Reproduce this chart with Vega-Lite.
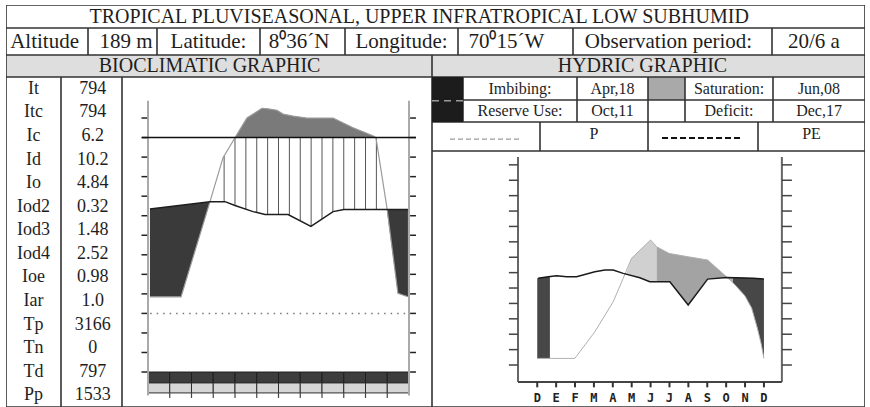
{
"$schema": "https://vega.github.io/schema/vega-lite/v6.json",
"padding": {"left": 6, "top": 5, "right": 5, "bottom": 0},
"background": "white",
"config": {
  "view": {"stroke": null},
  "concat": {"spacing": 0},
  "text": {"font": "Liberation Serif", "fontSize": 20, "color": "#1e1e1e"},
  "axis": {"disable": true},
  "legend": {"disable": true}
},
"datasets": {
  "cell": [{"c": 1}],
  "idx": [{"i":0,"k":"It","v":"794"},{"i":1,"k":"Itc","v":"794"},{"i":2,"k":"Ic","v":"6.2"},{"i":3,"k":"Id","v":"10.2"},{"i":4,"k":"Io","v":"4.84"},{"i":5,"k":"Iod2","v":"0.32"},{"i":6,"k":"Iod3","v":"1.48"},{"i":7,"k":"Iod4","v":"2.52"},{"i":8,"k":"Ioe","v":"0.98"},{"i":9,"k":"Iar","v":"1.0"},{"i":10,"k":"Tp","v":"3166"},{"i":11,"k":"Tn","v":"0"},{"i":12,"k":"Td","v":"797"},{"i":13,"k":"Pp","v":"1533"}],
  "months": [{"m":0,"e":1},{"m":1,"e":2},{"m":2,"e":3},{"m":3,"e":4},{"m":4,"e":5},{"m":5,"e":6},{"m":6,"e":7},{"m":7,"e":8},{"m":8,"e":9},{"m":9,"e":10},{"m":10,"e":11},{"m":11,"e":12}],
  "bticks": [{"v":0},{"v":1},{"v":2},{"v":3},{"v":4},{"v":5},{"v":6},{"v":7},{"v":8},{"v":9},{"v":10},{"v":11},{"v":12},{"v":13}],
  "bioA": [{"x":0.09,"v":8.35},{"x":2.85,"v":8.72},{"x":3.54,"v":8.72},{"x":4.0,"v":8.52},{"x":4.83,"v":8.21},{"x":5.38,"v":8.06},{"x":6.44,"v":8.06},{"x":7.49,"v":7.45},{"x":8.51,"v":8.21},{"x":9.01,"v":8.32},{"x":11.95,"v":8.32}],
  "bioB": [{"x":0.09,"v":3.85},{"x":1.52,"v":3.85},{"x":2.85,"v":8.72},{"x":3.45,"v":10.97},{"x":4.0,"v":11.99},{"x":4.55,"v":13.0},{"x":5.24,"v":13.5},{"x":5.52,"v":13.47},{"x":5.93,"v":13.4},{"x":6.21,"v":13.2},{"x":6.67,"v":13.1},{"x":7.31,"v":13.0},{"x":8.51,"v":13.0},{"x":9.43,"v":12.5},{"x":10.34,"v":12.09},{"x":10.48,"v":12.0},{"x":10.99,"v":8.37},{"x":11.49,"v":4.03},{"x":11.95,"v":3.85}],
  "bioDark": [{"s":"a","x":0.09,"lo":3.85,"hi":8.35},{"s":"a","x":1.52,"lo":3.85,"hi":8.54},{"s":"a","x":2.85,"lo":8.72,"hi":8.72},{"s":"b","x":10.98,"lo":8.33,"hi":8.33},{"s":"b","x":11.49,"lo":4.03,"hi":8.33},{"s":"b","x":11.95,"lo":3.85,"hi":8.33}],
  "bioTop": [{"x":4.0,"v":12.0},{"x":4.55,"v":13.0},{"x":5.24,"v":13.5},{"x":5.52,"v":13.47},{"x":5.93,"v":13.4},{"x":6.21,"v":13.2},{"x":6.67,"v":13.1},{"x":7.31,"v":13.0},{"x":8.51,"v":13.0},{"x":9.43,"v":12.5},{"x":10.34,"v":12.09},{"x":10.48,"v":12.0}],
  "bioHatch": [{"x":3.5,"lo":8.72,"hi":11.06},{"x":4.0,"lo":8.52,"hi":12},{"x":4.5,"lo":8.33,"hi":12},{"x":5.0,"lo":8.16,"hi":12},{"x":5.5,"lo":8.06,"hi":12},{"x":6.0,"lo":8.06,"hi":12},{"x":6.5,"lo":8.03,"hi":12},{"x":7.0,"lo":7.73,"hi":12},{"x":7.5,"lo":7.45,"hi":12},{"x":8.0,"lo":7.83,"hi":12},{"x":8.5,"lo":8.21,"hi":12},{"x":9.0,"lo":8.32,"hi":12},{"x":9.5,"lo":8.32,"hi":12},{"x":10.0,"lo":8.32,"hi":12},{"x":10.5,"lo":8.32,"hi":12}],
  "hmonths": [{"m":0,"l":"D"},{"m":1,"l":"E"},{"m":2,"l":"F"},{"m":3,"l":"M"},{"m":4,"l":"A"},{"m":5,"l":"M"},{"m":6,"l":"J"},{"m":7,"l":"J"},{"m":8,"l":"A"},{"m":9,"l":"S"},{"m":10,"l":"O"},{"m":11,"l":"N"},{"m":12,"l":"D"}],
  "hticks": [{"k":1},{"k":2},{"k":3},{"k":4},{"k":5},{"k":6},{"k":7},{"k":8},{"k":9},{"k":10},{"k":11},{"k":12},{"k":13},{"k":14}],
  "P": [{"x":0.05,"v":1.43},{"x":1.99,"v":1.43},{"x":3.05,"v":3.16},{"x":4.02,"v":5.11},{"x":4.55,"v":6.63},{"x":4.99,"v":7.93},{"x":6.0,"v":9.12},{"x":6.32,"v":8.68},{"x":6.98,"v":8.25},{"x":7.99,"v":8.03},{"x":9.02,"v":7.82},{"x":10.02,"v":6.73},{"x":10.36,"v":6.35},{"x":10.99,"v":5.5},{"x":11.35,"v":4.7},{"x":11.65,"v":3.4},{"x":11.85,"v":2.4},{"x":12.0,"v":1.43}],
  "PE": [{"x":0.05,"v":6.63},{"x":0.58,"v":6.73},{"x":1.03,"v":6.8},{"x":1.56,"v":6.73},{"x":2.08,"v":6.73},{"x":3.05,"v":7.06},{"x":3.58,"v":7.17},{"x":4.02,"v":7.17},{"x":4.55,"v":6.95},{"x":5.43,"v":6.67},{"x":5.96,"v":6.41},{"x":7.02,"v":6.41},{"x":7.99,"v":4.9},{"x":9.02,"v":6.58},{"x":10.02,"v":6.69},{"x":11.43,"v":6.63},{"x":12.0,"v":6.58}],
  "hLeft": [{"x":0.0,"lo":1.43,"hi":6.63},{"x":0.67,"lo":1.43,"hi":6.75}],
  "hLight": [{"x":4.7,"lo":6.9,"hi":6.9},{"x":4.99,"lo":6.81,"hi":7.93},{"x":5.43,"lo":6.67,"hi":8.45},{"x":5.96,"lo":6.41,"hi":9.07},{"x":6.0,"lo":6.41,"hi":9.12},{"x":6.32,"lo":6.41,"hi":8.68}],
  "hSat": [{"x":6.32,"lo":6.41,"hi":8.68},{"x":6.98,"lo":6.41,"hi":8.25},{"x":7.02,"lo":6.41,"hi":8.24},{"x":7.99,"lo":4.9,"hi":8.03},{"x":9.02,"lo":6.58,"hi":7.82},{"x":10.02,"lo":6.69,"hi":6.73}],
  "hDefL": [{"x":10.02,"lo":6.71,"hi":6.71},{"x":10.36,"lo":6.35,"hi":6.68}],
  "hDefD": [{"x":10.36,"lo":6.35,"hi":6.68},{"x":10.99,"lo":5.5,"hi":6.66},{"x":11.35,"lo":4.7,"hi":6.64},{"x":11.65,"lo":3.4,"hi":6.62},{"x":11.85,"lo":2.4,"hi":6.6},{"x":12.0,"lo":1.43,"hi":6.58}]
},
"spacing": 0,
"vconcat": [
  {"width": 859, "height": 23, "layer": [
    {"data": {"name": "cell"}, "mark": {"type": "rect", "fill": "transparent", "stroke": "#333", "strokeWidth": 1.6, "clip": true}, "encoding": {"x": {"datum": 0, "type": "quantitative", "scale": {"domain": [0, 1]}, "axis": null}, "x2": {"datum": 1}, "y": {"datum": 0, "type": "quantitative", "scale": {"domain": [0, 1]}, "axis": null}, "y2": {"datum": 1}}},
    {"data": {"values": [{"t": "TROPICAL PLUVISEASONAL, UPPER INFRATROPICAL LOW SUBHUMID"}]}, "mark": {"type": "text", "fontSize": 20}, "encoding": {"x": {"datum": 0.481, "type": "quantitative"}, "y": {"datum": 0.5, "type": "quantitative"}, "text": {"field": "t"}}}
  ]},
  {"spacing": 0, "hconcat": [
    {"width": 82, "height": 27, "layer": [
      {"data": {"name": "cell"}, "mark": {"type": "rect", "fill": "transparent", "stroke": "#333", "strokeWidth": 1.6, "clip": true}, "encoding": {"x": {"datum": 0, "type": "quantitative", "scale": {"domain": [0, 1]}, "axis": null}, "x2": {"datum": 1}, "y": {"datum": 0, "type": "quantitative", "scale": {"domain": [0, 1]}, "axis": null}, "y2": {"datum": 1}}},
      {"data": {"values": [{"t": "Altitude"}]}, "mark": {"type": "text", "fontSize": 21}, "encoding": {"x": {"datum": 0.47, "type": "quantitative"}, "y": {"datum": 0.5, "type": "quantitative"}, "text": {"field": "t"}}}
    ]},
    {"width": 69, "height": 27, "layer": [
      {"data": {"name": "cell"}, "mark": {"type": "rect", "fill": "transparent", "stroke": "#333", "strokeWidth": 1.6, "clip": true}, "encoding": {"x": {"datum": 0, "type": "quantitative", "scale": {"domain": [0, 1]}, "axis": null}, "x2": {"datum": 1}, "y": {"datum": 0, "type": "quantitative", "scale": {"domain": [0, 1]}, "axis": null}, "y2": {"datum": 1}}},
      {"data": {"values": [{"t": "189 m"}]}, "mark": {"type": "text", "fontSize": 21}, "encoding": {"x": {"datum": 0.55, "type": "quantitative"}, "y": {"datum": 0.5, "type": "quantitative"}, "text": {"field": "t"}}}
    ]},
    {"width": 103, "height": 27, "layer": [
      {"data": {"name": "cell"}, "mark": {"type": "rect", "fill": "transparent", "stroke": "#333", "strokeWidth": 1.6, "clip": true}, "encoding": {"x": {"datum": 0, "type": "quantitative", "scale": {"domain": [0, 1]}, "axis": null}, "x2": {"datum": 1}, "y": {"datum": 0, "type": "quantitative", "scale": {"domain": [0, 1]}, "axis": null}, "y2": {"datum": 1}}},
      {"data": {"values": [{"t": "Latitude:"}]}, "mark": {"type": "text", "fontSize": 21}, "encoding": {"x": {"datum": 0.5, "type": "quantitative"}, "y": {"datum": 0.5, "type": "quantitative"}, "text": {"field": "t"}}}
    ]},
    {"width": 85, "height": 27, "layer": [
      {"data": {"name": "cell"}, "mark": {"type": "rect", "fill": "transparent", "stroke": "#333", "strokeWidth": 1.6, "clip": true}, "encoding": {"x": {"datum": 0, "type": "quantitative", "scale": {"domain": [0, 1]}, "axis": null}, "x2": {"datum": 1}, "y": {"datum": 0, "type": "quantitative", "scale": {"domain": [0, 1]}, "axis": null}, "y2": {"datum": 1}}},
      {"data": {"values": [{"t": "8⁰36´N"}]}, "mark": {"type": "text", "fontSize": 21}, "encoding": {"x": {"datum": 0.46, "type": "quantitative"}, "y": {"datum": 0.5, "type": "quantitative"}, "text": {"field": "t"}}}
    ]},
    {"width": 113, "height": 27, "layer": [
      {"data": {"name": "cell"}, "mark": {"type": "rect", "fill": "transparent", "stroke": "#333", "strokeWidth": 1.6, "clip": true}, "encoding": {"x": {"datum": 0, "type": "quantitative", "scale": {"domain": [0, 1]}, "axis": null}, "x2": {"datum": 1}, "y": {"datum": 0, "type": "quantitative", "scale": {"domain": [0, 1]}, "axis": null}, "y2": {"datum": 1}}},
      {"data": {"values": [{"t": "Longitude:"}]}, "mark": {"type": "text", "fontSize": 21}, "encoding": {"x": {"datum": 0.5, "type": "quantitative"}, "y": {"datum": 0.5, "type": "quantitative"}, "text": {"field": "t"}}}
    ]},
    {"width": 115, "height": 27, "layer": [
      {"data": {"name": "cell"}, "mark": {"type": "rect", "fill": "transparent", "stroke": "#333", "strokeWidth": 1.6, "clip": true}, "encoding": {"x": {"datum": 0, "type": "quantitative", "scale": {"domain": [0, 1]}, "axis": null}, "x2": {"datum": 1}, "y": {"datum": 0, "type": "quantitative", "scale": {"domain": [0, 1]}, "axis": null}, "y2": {"datum": 1}}},
      {"data": {"values": [{"t": "70⁰15´W"}]}, "mark": {"type": "text", "fontSize": 21}, "encoding": {"x": {"datum": 0.42, "type": "quantitative"}, "y": {"datum": 0.5, "type": "quantitative"}, "text": {"field": "t"}}}
    ]},
    {"width": 199, "height": 27, "layer": [
      {"data": {"name": "cell"}, "mark": {"type": "rect", "fill": "transparent", "stroke": "#333", "strokeWidth": 1.6, "clip": true}, "encoding": {"x": {"datum": 0, "type": "quantitative", "scale": {"domain": [0, 1]}, "axis": null}, "x2": {"datum": 1}, "y": {"datum": 0, "type": "quantitative", "scale": {"domain": [0, 1]}, "axis": null}, "y2": {"datum": 1}}},
      {"data": {"values": [{"t": "Observation period:"}]}, "mark": {"type": "text", "fontSize": 21}, "encoding": {"x": {"datum": 0.48, "type": "quantitative"}, "y": {"datum": 0.5, "type": "quantitative"}, "text": {"field": "t"}}}
    ]},
    {"width": 93, "height": 27, "layer": [
      {"data": {"name": "cell"}, "mark": {"type": "rect", "fill": "transparent", "stroke": "#333", "strokeWidth": 1.6, "clip": true}, "encoding": {"x": {"datum": 0, "type": "quantitative", "scale": {"domain": [0, 1]}, "axis": null}, "x2": {"datum": 1}, "y": {"datum": 0, "type": "quantitative", "scale": {"domain": [0, 1]}, "axis": null}, "y2": {"datum": 1}}},
      {"data": {"values": [{"t": "20/6 a"}]}, "mark": {"type": "text", "fontSize": 21}, "encoding": {"x": {"datum": 0.45, "type": "quantitative"}, "y": {"datum": 0.5, "type": "quantitative"}, "text": {"field": "t"}}}
    ]}
  ]},
  {"spacing": 0, "hconcat": [
    {"width": 426, "height": 22, "view": {"fill": "#dedede", "stroke": null}, "layer": [
      {"data": {"name": "cell"}, "mark": {"type": "rect", "fill": "transparent", "stroke": "#333", "strokeWidth": 1.6, "clip": true}, "encoding": {"x": {"datum": 0, "type": "quantitative", "scale": {"domain": [0, 1]}, "axis": null}, "x2": {"datum": 1}, "y": {"datum": 0, "type": "quantitative", "scale": {"domain": [0, 1]}, "axis": null}, "y2": {"datum": 1}}},
      {"data": {"values": [{"t": "BIOCLIMATIC GRAPHIC"}]}, "mark": {"type": "text"}, "encoding": {"x": {"datum": 0.478, "type": "quantitative"}, "y": {"datum": 0.5, "type": "quantitative"}, "text": {"field": "t"}}}
    ]},
    {"width": 433, "height": 22, "view": {"fill": "#dedede", "stroke": null}, "layer": [
      {"data": {"name": "cell"}, "mark": {"type": "rect", "fill": "transparent", "stroke": "#333", "strokeWidth": 1.6, "clip": true}, "encoding": {"x": {"datum": 0, "type": "quantitative", "scale": {"domain": [0, 1]}, "axis": null}, "x2": {"datum": 1}, "y": {"datum": 0, "type": "quantitative", "scale": {"domain": [0, 1]}, "axis": null}, "y2": {"datum": 1}}},
      {"data": {"values": [{"t": "HYDRIC GRAPHIC"}]}, "mark": {"type": "text"}, "encoding": {"x": {"datum": 0.486, "type": "quantitative"}, "y": {"datum": 0.5, "type": "quantitative"}, "text": {"field": "t"}}}
    ]}
  ]},
  {"spacing": 0, "hconcat": [
    {"width": 55, "height": 330, "layer": [
      {"data": {"name": "cell"}, "mark": {"type": "rect", "fill": "transparent", "stroke": "#333", "strokeWidth": 1.6, "clip": true}, "encoding": {"x": {"datum": 0, "type": "quantitative", "scale": {"domain": [0, 1]}, "axis": null}, "x2": {"datum": 1}, "y": {"datum": -0.5, "type": "quantitative", "scale": {"domain": [-0.5, 13.5], "reverse": true, "nice": false, "zero": false}, "axis": null}, "y2": {"datum": 13.5}}},
      {"data": {"name": "idx"}, "mark": {"type": "text", "fontSize": 18}, "encoding": {"x": {"datum": 0.5, "type": "quantitative", "scale": {"domain": [0, 1]}, "axis": null}, "y": {"field": "i", "type": "quantitative", "scale": {"domain": [-0.5, 13.5], "reverse": true, "nice": false, "zero": false}, "axis": null}, "text": {"field": "k"}}}
    ]},
    {"width": 61, "height": 330, "layer": [
      {"data": {"name": "cell"}, "mark": {"type": "rect", "fill": "transparent", "stroke": "#333", "strokeWidth": 1.6, "clip": true}, "encoding": {"x": {"datum": 0, "type": "quantitative", "scale": {"domain": [0, 1]}, "axis": null}, "x2": {"datum": 1}, "y": {"datum": -0.5, "type": "quantitative", "scale": {"domain": [-0.5, 13.5], "reverse": true, "nice": false, "zero": false}, "axis": null}, "y2": {"datum": 13.5}}},
      {"data": {"name": "idx"}, "mark": {"type": "text", "fontSize": 18}, "encoding": {"x": {"datum": 0.52, "type": "quantitative", "scale": {"domain": [0, 1]}, "axis": null}, "y": {"field": "i", "type": "quantitative", "scale": {"domain": [-0.5, 13.5], "reverse": true, "nice": false, "zero": false}, "axis": null}, "text": {"field": "v"}}}
    ]},
    {"width": 310, "height": 330, "layer": [
      {"data": {"name": "cell"}, "mark": {"type": "rect", "fill": "transparent", "stroke": "#333", "strokeWidth": 1.6, "clip": true}, "encoding": {"x": {"datum": -1.195, "type": "quantitative", "scale": {"domain": [-1.195, 13.057], "nice": false, "zero": false}, "axis": null}, "x2": {"datum": 13.057}, "y": {"datum": -1.79, "type": "quantitative", "scale": {"domain": [-1.79, 15.1], "nice": false, "zero": false}, "axis": null}, "y2": {"datum": 15.1}}},
      {"data": {"name": "months"}, "mark": {"type": "rect", "fill": "#3d3d3d", "stroke": "#1e1e1e", "strokeWidth": 1, "clip": true}, "encoding": {"x": {"field": "m", "type": "quantitative", "scale": {"domain": [-1.195, 13.057], "nice": false, "zero": false}, "axis": null}, "x2": {"field": "e"}, "y": {"datum": 0, "type": "quantitative", "scale": {"domain": [-1.79, 15.1], "nice": false, "zero": false}, "axis": null}, "y2": {"datum": -0.56}}},
      {"data": {"name": "months"}, "mark": {"type": "rect", "fill": "#d6d6d6", "stroke": "#2e2e2e", "strokeWidth": 1, "clip": true}, "encoding": {"x": {"field": "m", "type": "quantitative", "scale": {"domain": [-1.195, 13.057], "nice": false, "zero": false}, "axis": null}, "x2": {"field": "e"}, "y": {"datum": -0.56, "type": "quantitative", "scale": {"domain": [-1.79, 15.1], "nice": false, "zero": false}, "axis": null}, "y2": {"datum": -1.07}}},
      {"data": {"name": "months"}, "transform": [{"filter": "datum.m > 0"}], "mark": {"type": "rule", "color": "#444", "strokeWidth": 1.2, "clip": true}, "encoding": {"x": {"field": "m", "type": "quantitative", "scale": {"domain": [-1.195, 13.057], "nice": false, "zero": false}, "axis": null}, "y": {"datum": -1.07, "type": "quantitative", "scale": {"domain": [-1.79, 15.1], "nice": false, "zero": false}, "axis": null}, "y2": {"datum": -1.33}}},
      {"data": {"values": [{"x": 0}, {"x": 12}]}, "mark": {"type": "rule", "color": "#aaaaaa", "strokeWidth": 2, "clip": true}, "encoding": {"x": {"field": "x", "type": "quantitative", "scale": {"domain": [-1.195, 13.057], "nice": false, "zero": false}, "axis": null}, "y": {"datum": -1.2, "type": "quantitative", "scale": {"domain": [-1.79, 15.1], "nice": false, "zero": false}, "axis": null}, "y2": {"datum": 13.88}}},
      {"data": {"name": "bticks"}, "mark": {"type": "rule", "color": "#222", "strokeWidth": 1.5, "clip": true}, "encoding": {"x": {"datum": -0.3, "type": "quantitative", "scale": {"domain": [-1.195, 13.057], "nice": false, "zero": false}, "axis": null}, "x2": {"datum": -0.04}, "y": {"field": "v", "type": "quantitative", "scale": {"domain": [-1.79, 15.1], "nice": false, "zero": false}, "axis": null}}},
      {"data": {"name": "bticks"}, "mark": {"type": "rule", "color": "#222", "strokeWidth": 1.5, "clip": true}, "encoding": {"x": {"datum": 12.05, "type": "quantitative", "scale": {"domain": [-1.195, 13.057], "nice": false, "zero": false}, "axis": null}, "x2": {"datum": 12.32}, "y": {"field": "v", "type": "quantitative", "scale": {"domain": [-1.79, 15.1], "nice": false, "zero": false}, "axis": null}}},
      {"data": {"values": [{"y": 3}]}, "mark": {"type": "rule", "color": "#777", "strokeWidth": 1.5, "strokeDash": [1.5, 5], "clip": true}, "encoding": {"x": {"datum": 0.1, "type": "quantitative", "scale": {"domain": [-1.195, 13.057], "nice": false, "zero": false}, "axis": null}, "x2": {"datum": 11.85}, "y": {"field": "y", "type": "quantitative", "scale": {"domain": [-1.79, 15.1], "nice": false, "zero": false}, "axis": null}}},
      {"data": {"name": "bioDark"}, "mark": {"type": "area", "color": "#3a3a3a", "clip": true}, "encoding": {"x": {"field": "x", "type": "quantitative", "scale": {"domain": [-1.195, 13.057], "nice": false, "zero": false}, "axis": null}, "y": {"field": "lo", "type": "quantitative", "scale": {"domain": [-1.79, 15.1], "nice": false, "zero": false}, "axis": null}, "y2": {"field": "hi"}, "detail": {"field": "s"}}},
      {"data": {"name": "bioTop"}, "mark": {"type": "area", "color": "#7a7a7a", "clip": true}, "encoding": {"x": {"field": "x", "type": "quantitative", "scale": {"domain": [-1.195, 13.057], "nice": false, "zero": false}, "axis": null}, "y": {"field": "v", "type": "quantitative", "scale": {"domain": [-1.79, 15.1], "nice": false, "zero": false}, "axis": null}, "y2": {"datum": 12}}},
      {"data": {"name": "bioHatch"}, "mark": {"type": "rule", "color": "#555", "strokeWidth": 1, "clip": true}, "encoding": {"x": {"field": "x", "type": "quantitative", "scale": {"domain": [-1.195, 13.057], "nice": false, "zero": false}, "axis": null}, "y": {"field": "lo", "type": "quantitative", "scale": {"domain": [-1.79, 15.1], "nice": false, "zero": false}, "axis": null}, "y2": {"field": "hi"}}},
      {"data": {"name": "bioB"}, "mark": {"type": "line", "color": "#9a9a9a", "strokeWidth": 1.2, "clip": true}, "encoding": {"x": {"field": "x", "type": "quantitative", "scale": {"domain": [-1.195, 13.057], "nice": false, "zero": false}, "axis": null}, "y": {"field": "v", "type": "quantitative", "scale": {"domain": [-1.79, 15.1], "nice": false, "zero": false}, "axis": null}}},
      {"data": {"name": "bioA"}, "mark": {"type": "line", "color": "#1e1e1e", "strokeWidth": 1.5, "clip": true}, "encoding": {"x": {"field": "x", "type": "quantitative", "scale": {"domain": [-1.195, 13.057], "nice": false, "zero": false}, "axis": null}, "y": {"field": "v", "type": "quantitative", "scale": {"domain": [-1.79, 15.1], "nice": false, "zero": false}, "axis": null}}},
      {"data": {"values": [{"y": 12}]}, "mark": {"type": "rule", "color": "#111", "strokeWidth": 1.5, "clip": true}, "encoding": {"x": {"datum": -0.28, "type": "quantitative", "scale": {"domain": [-1.195, 13.057], "nice": false, "zero": false}, "axis": null}, "x2": {"datum": 12.32}, "y": {"field": "y", "type": "quantitative", "scale": {"domain": [-1.79, 15.1], "nice": false, "zero": false}, "axis": null}}}
    ]},
    {"spacing": 0, "vconcat": [
      {"spacing": 0, "hconcat": [
        {"width": 31, "height": 23, "view": {"fill": "#1c1c1c", "stroke": null}, "data": {"name": "cell"}, "mark": {"type": "rect", "fill": "transparent", "stroke": "#1c1c1c", "strokeWidth": 1.6, "clip": true}, "encoding": {"x": {"datum": 0, "type": "quantitative", "scale": {"domain": [0, 1]}, "axis": null}, "x2": {"datum": 1}, "y": {"datum": 0, "type": "quantitative", "scale": {"domain": [0, 1]}, "axis": null}, "y2": {"datum": 1}}},
        {"width": 114, "height": 23, "layer": [
          {"data": {"name": "cell"}, "mark": {"type": "rect", "fill": "transparent", "stroke": "#333", "strokeWidth": 1.6, "clip": true}, "encoding": {"x": {"datum": 0, "type": "quantitative", "scale": {"domain": [0, 1]}, "axis": null}, "x2": {"datum": 1}, "y": {"datum": 0, "type": "quantitative", "scale": {"domain": [0, 1]}, "axis": null}, "y2": {"datum": 1}}},
          {"data": {"values": [{"t": "Imbibing:"}]}, "mark": {"type": "text", "fontSize": 16}, "encoding": {"x": {"datum": 0.5, "type": "quantitative"}, "y": {"datum": 0.5, "type": "quantitative"}, "text": {"field": "t"}}}
        ]},
        {"width": 71, "height": 23, "layer": [
          {"data": {"name": "cell"}, "mark": {"type": "rect", "fill": "transparent", "stroke": "#333", "strokeWidth": 1.6, "clip": true}, "encoding": {"x": {"datum": 0, "type": "quantitative", "scale": {"domain": [0, 1]}, "axis": null}, "x2": {"datum": 1}, "y": {"datum": 0, "type": "quantitative", "scale": {"domain": [0, 1]}, "axis": null}, "y2": {"datum": 1}}},
          {"data": {"values": [{"t": "Apr,18"}]}, "mark": {"type": "text", "fontSize": 16}, "encoding": {"x": {"datum": 0.5, "type": "quantitative"}, "y": {"datum": 0.5, "type": "quantitative"}, "text": {"field": "t"}}}
        ]},
        {"width": 37, "height": 23, "view": {"fill": "#a9a9a9", "stroke": null}, "data": {"name": "cell"}, "mark": {"type": "rect", "fill": "transparent", "stroke": "#333", "strokeWidth": 1.6, "clip": true}, "encoding": {"x": {"datum": 0, "type": "quantitative", "scale": {"domain": [0, 1]}, "axis": null}, "x2": {"datum": 1}, "y": {"datum": 0, "type": "quantitative", "scale": {"domain": [0, 1]}, "axis": null}, "y2": {"datum": 1}}},
        {"width": 88, "height": 23, "layer": [
          {"data": {"name": "cell"}, "mark": {"type": "rect", "fill": "transparent", "stroke": "#333", "strokeWidth": 1.6, "clip": true}, "encoding": {"x": {"datum": 0, "type": "quantitative", "scale": {"domain": [0, 1]}, "axis": null}, "x2": {"datum": 1}, "y": {"datum": 0, "type": "quantitative", "scale": {"domain": [0, 1]}, "axis": null}, "y2": {"datum": 1}}},
          {"data": {"values": [{"t": "Saturation:"}]}, "mark": {"type": "text", "fontSize": 16}, "encoding": {"x": {"datum": 0.5, "type": "quantitative"}, "y": {"datum": 0.5, "type": "quantitative"}, "text": {"field": "t"}}}
        ]},
        {"width": 92, "height": 23, "layer": [
          {"data": {"name": "cell"}, "mark": {"type": "rect", "fill": "transparent", "stroke": "#333", "strokeWidth": 1.6, "clip": true}, "encoding": {"x": {"datum": 0, "type": "quantitative", "scale": {"domain": [0, 1]}, "axis": null}, "x2": {"datum": 1}, "y": {"datum": 0, "type": "quantitative", "scale": {"domain": [0, 1]}, "axis": null}, "y2": {"datum": 1}}},
          {"data": {"values": [{"t": "Jun,08"}]}, "mark": {"type": "text", "fontSize": 16}, "encoding": {"x": {"datum": 0.5, "type": "quantitative"}, "y": {"datum": 0.5, "type": "quantitative"}, "text": {"field": "t"}}}
        ]}
      ]},
      {"spacing": 0, "hconcat": [
        {"width": 31, "height": 22, "view": {"fill": "#1c1c1c", "stroke": null}, "data": {"values": [{"y": 0.97}]}, "mark": {"type": "rule", "color": "#9a9a9a", "strokeDash": [7, 5], "strokeWidth": 1.5, "clip": true}, "encoding": {"y": {"field": "y", "type": "quantitative", "scale": {"domain": [0, 1], "nice": false, "zero": false}, "axis": null}}},
        {"width": 114, "height": 22, "layer": [
          {"data": {"name": "cell"}, "mark": {"type": "rect", "fill": "transparent", "stroke": "#333", "strokeWidth": 1.6, "clip": true}, "encoding": {"x": {"datum": 0, "type": "quantitative", "scale": {"domain": [0, 1]}, "axis": null}, "x2": {"datum": 1}, "y": {"datum": 0, "type": "quantitative", "scale": {"domain": [0, 1]}, "axis": null}, "y2": {"datum": 1}}},
          {"data": {"values": [{"t": "Reserve Use:"}]}, "mark": {"type": "text", "fontSize": 16}, "encoding": {"x": {"datum": 0.5, "type": "quantitative"}, "y": {"datum": 0.5, "type": "quantitative"}, "text": {"field": "t"}}}
        ]},
        {"width": 71, "height": 22, "layer": [
          {"data": {"name": "cell"}, "mark": {"type": "rect", "fill": "transparent", "stroke": "#333", "strokeWidth": 1.6, "clip": true}, "encoding": {"x": {"datum": 0, "type": "quantitative", "scale": {"domain": [0, 1]}, "axis": null}, "x2": {"datum": 1}, "y": {"datum": 0, "type": "quantitative", "scale": {"domain": [0, 1]}, "axis": null}, "y2": {"datum": 1}}},
          {"data": {"values": [{"t": "Oct,11"}]}, "mark": {"type": "text", "fontSize": 16}, "encoding": {"x": {"datum": 0.5, "type": "quantitative"}, "y": {"datum": 0.5, "type": "quantitative"}, "text": {"field": "t"}}}
        ]},
        {"width": 37, "height": 22, "data": {"name": "cell"}, "mark": {"type": "rect", "fill": "transparent", "stroke": "#333", "strokeWidth": 1.6, "clip": true}, "encoding": {"x": {"datum": 0, "type": "quantitative", "scale": {"domain": [0, 1]}, "axis": null}, "x2": {"datum": 1}, "y": {"datum": 0, "type": "quantitative", "scale": {"domain": [0, 1]}, "axis": null}, "y2": {"datum": 1}}},
        {"width": 88, "height": 22, "layer": [
          {"data": {"name": "cell"}, "mark": {"type": "rect", "fill": "transparent", "stroke": "#333", "strokeWidth": 1.6, "clip": true}, "encoding": {"x": {"datum": 0, "type": "quantitative", "scale": {"domain": [0, 1]}, "axis": null}, "x2": {"datum": 1}, "y": {"datum": 0, "type": "quantitative", "scale": {"domain": [0, 1]}, "axis": null}, "y2": {"datum": 1}}},
          {"data": {"values": [{"t": "Deficit:"}]}, "mark": {"type": "text", "fontSize": 16}, "encoding": {"x": {"datum": 0.5, "type": "quantitative"}, "y": {"datum": 0.5, "type": "quantitative"}, "text": {"field": "t"}}}
        ]},
        {"width": 92, "height": 22, "layer": [
          {"data": {"name": "cell"}, "mark": {"type": "rect", "fill": "transparent", "stroke": "#333", "strokeWidth": 1.6, "clip": true}, "encoding": {"x": {"datum": 0, "type": "quantitative", "scale": {"domain": [0, 1]}, "axis": null}, "x2": {"datum": 1}, "y": {"datum": 0, "type": "quantitative", "scale": {"domain": [0, 1]}, "axis": null}, "y2": {"datum": 1}}},
          {"data": {"values": [{"t": "Dec,17"}]}, "mark": {"type": "text", "fontSize": 16}, "encoding": {"x": {"datum": 0.5, "type": "quantitative"}, "y": {"datum": 0.5, "type": "quantitative"}, "text": {"field": "t"}}}
        ]}
      ]},
      {"spacing": 0, "hconcat": [
        {"width": 108, "height": 29, "layer": [
          {"data": {"name": "cell"}, "mark": {"type": "rect", "fill": "transparent", "stroke": "#333", "strokeWidth": 1.6, "clip": true}, "encoding": {"x": {"datum": -0.25, "type": "quantitative", "scale": {"domain": [-0.25, 1.25], "nice": false, "zero": false}, "axis": null}, "x2": {"datum": 1.25}, "y": {"datum": 0, "type": "quantitative", "scale": {"domain": [0, 1], "nice": false, "zero": false}, "axis": null}, "y2": {"datum": 1}}},
          {"data": {"values": [{"series": "P"}]}, "mark": {"type": "rule", "color": "#9a9a9a", "strokeDash": [5, 3], "strokeWidth": 1.2, "clip": true}, "encoding": {"x": {"datum": 0, "type": "quantitative", "scale": {"domain": [-0.25, 1.25], "nice": false, "zero": false}, "axis": null}, "x2": {"datum": 1}, "y": {"datum": 0.41, "type": "quantitative", "scale": {"domain": [0, 1], "nice": false, "zero": false}, "axis": null}}}
        ]},
        {"width": 108, "height": 29, "layer": [
          {"data": {"name": "cell"}, "mark": {"type": "rect", "fill": "transparent", "stroke": "#333", "strokeWidth": 1.6, "clip": true}, "encoding": {"x": {"datum": 0, "type": "quantitative", "scale": {"domain": [0, 1]}, "axis": null}, "x2": {"datum": 1}, "y": {"datum": 0, "type": "quantitative", "scale": {"domain": [0, 1]}, "axis": null}, "y2": {"datum": 1}}},
          {"data": {"values": [{"t": "P"}]}, "mark": {"type": "text", "fontSize": 16}, "encoding": {"x": {"datum": 0.5, "type": "quantitative"}, "y": {"datum": 0.58, "type": "quantitative"}, "text": {"field": "t"}}}
        ]},
        {"width": 110, "height": 29, "layer": [
          {"data": {"name": "cell"}, "mark": {"type": "rect", "fill": "transparent", "stroke": "#333", "strokeWidth": 1.6, "clip": true}, "encoding": {"x": {"datum": -0.173, "type": "quantitative", "scale": {"domain": [-0.173, 1.185], "nice": false, "zero": false}, "axis": null}, "x2": {"datum": 1.185}, "y": {"datum": 0, "type": "quantitative", "scale": {"domain": [0, 1], "nice": false, "zero": false}, "axis": null}, "y2": {"datum": 1}}},
          {"data": {"values": [{"series": "PE"}]}, "mark": {"type": "rule", "color": "#111", "strokeDash": [6, 3], "strokeWidth": 2, "clip": true}, "encoding": {"x": {"datum": 0, "type": "quantitative", "scale": {"domain": [-0.173, 1.185], "nice": false, "zero": false}, "axis": null}, "x2": {"datum": 1}, "y": {"datum": 0.45, "type": "quantitative", "scale": {"domain": [0, 1], "nice": false, "zero": false}, "axis": null}}}
        ]},
        {"width": 107, "height": 29, "layer": [
          {"data": {"name": "cell"}, "mark": {"type": "rect", "fill": "transparent", "stroke": "#333", "strokeWidth": 1.6, "clip": true}, "encoding": {"x": {"datum": 0, "type": "quantitative", "scale": {"domain": [0, 1]}, "axis": null}, "x2": {"datum": 1}, "y": {"datum": 0, "type": "quantitative", "scale": {"domain": [0, 1]}, "axis": null}, "y2": {"datum": 1}}},
          {"data": {"values": [{"t": "PE"}]}, "mark": {"type": "text", "fontSize": 16}, "encoding": {"x": {"datum": 0.5, "type": "quantitative"}, "y": {"datum": 0.58, "type": "quantitative"}, "text": {"field": "t"}}}
        ]}
      ]},
      {"width": 433, "height": 256, "layer": [
        {"data": {"name": "cell"}, "mark": {"type": "rect", "fill": "transparent", "stroke": "#333", "strokeWidth": 1.6, "clip": true}, "encoding": {"x": {"datum": -5.571, "type": "quantitative", "scale": {"domain": [-5.571, 17.35], "nice": false, "zero": false}, "axis": null}, "x2": {"datum": 17.35}, "y": {"datum": -1.727, "type": "quantitative", "scale": {"domain": [-1.727, 14.9], "nice": false, "zero": false}, "axis": null}, "y2": {"datum": 14.9}}},
        {"data": {"name": "hLeft"}, "mark": {"type": "area", "color": "#474747", "clip": true}, "encoding": {"x": {"field": "x", "type": "quantitative", "scale": {"domain": [-5.571, 17.35], "nice": false, "zero": false}, "axis": null}, "y": {"field": "lo", "type": "quantitative", "scale": {"domain": [-1.727, 14.9], "nice": false, "zero": false}, "axis": null}, "y2": {"field": "hi"}}},
        {"data": {"name": "hLight"}, "mark": {"type": "area", "color": "#d0d0d0", "clip": true}, "encoding": {"x": {"field": "x", "type": "quantitative", "scale": {"domain": [-5.571, 17.35], "nice": false, "zero": false}, "axis": null}, "y": {"field": "lo", "type": "quantitative", "scale": {"domain": [-1.727, 14.9], "nice": false, "zero": false}, "axis": null}, "y2": {"field": "hi"}}},
        {"data": {"name": "hSat"}, "mark": {"type": "area", "color": "#a3a3a3", "clip": true}, "encoding": {"x": {"field": "x", "type": "quantitative", "scale": {"domain": [-5.571, 17.35], "nice": false, "zero": false}, "axis": null}, "y": {"field": "lo", "type": "quantitative", "scale": {"domain": [-1.727, 14.9], "nice": false, "zero": false}, "axis": null}, "y2": {"field": "hi"}}},
        {"data": {"name": "hDefL"}, "mark": {"type": "area", "color": "#b4b4b4", "clip": true}, "encoding": {"x": {"field": "x", "type": "quantitative", "scale": {"domain": [-5.571, 17.35], "nice": false, "zero": false}, "axis": null}, "y": {"field": "lo", "type": "quantitative", "scale": {"domain": [-1.727, 14.9], "nice": false, "zero": false}, "axis": null}, "y2": {"field": "hi"}}},
        {"data": {"name": "hDefD"}, "mark": {"type": "area", "color": "#474747", "clip": true}, "encoding": {"x": {"field": "x", "type": "quantitative", "scale": {"domain": [-5.571, 17.35], "nice": false, "zero": false}, "axis": null}, "y": {"field": "lo", "type": "quantitative", "scale": {"domain": [-1.727, 14.9], "nice": false, "zero": false}, "axis": null}, "y2": {"field": "hi"}}},
        {"data": {"name": "P"}, "mark": {"type": "line", "color": "#b0b0b0", "strokeWidth": 1, "clip": true}, "encoding": {"x": {"field": "x", "type": "quantitative", "scale": {"domain": [-5.571, 17.35], "nice": false, "zero": false}, "axis": null}, "y": {"field": "v", "type": "quantitative", "scale": {"domain": [-1.727, 14.9], "nice": false, "zero": false}, "axis": null}}},
        {"data": {"name": "PE"}, "mark": {"type": "line", "color": "#1a1a1a", "strokeWidth": 1.5, "clip": true}, "encoding": {"x": {"field": "x", "type": "quantitative", "scale": {"domain": [-5.571, 17.35], "nice": false, "zero": false}, "axis": null}, "y": {"field": "v", "type": "quantitative", "scale": {"domain": [-1.727, 14.9], "nice": false, "zero": false}, "axis": null}}},
        {"data": {"values": [{"x": -1.02}, {"x": 12.95}]}, "mark": {"type": "rule", "color": "#666", "strokeWidth": 2, "clip": true}, "encoding": {"x": {"field": "x", "type": "quantitative", "scale": {"domain": [-5.571, 17.35], "nice": false, "zero": false}, "axis": null}, "y": {"datum": -0.1, "type": "quantitative", "scale": {"domain": [-1.727, 14.9], "nice": false, "zero": false}, "axis": null}, "y2": {"datum": 14.51}}},
        {"data": {"values": [{"y": -0.1}]}, "mark": {"type": "rule", "color": "#444", "strokeWidth": 2, "clip": true}, "encoding": {"x": {"datum": -1.02, "type": "quantitative", "scale": {"domain": [-5.571, 17.35], "nice": false, "zero": false}, "axis": null}, "x2": {"datum": 12.95}, "y": {"field": "y", "type": "quantitative", "scale": {"domain": [-1.727, 14.9], "nice": false, "zero": false}, "axis": null}}},
        {"data": {"name": "hticks"}, "mark": {"type": "rule", "color": "#444", "strokeWidth": 1.5, "clip": true}, "encoding": {"x": {"datum": -1.5, "type": "quantitative", "scale": {"domain": [-5.571, 17.35], "nice": false, "zero": false}, "axis": null}, "x2": {"datum": -1.02}, "y": {"field": "k", "type": "quantitative", "scale": {"domain": [-1.727, 14.9], "nice": false, "zero": false}, "axis": null}}},
        {"data": {"name": "hticks"}, "mark": {"type": "rule", "color": "#444", "strokeWidth": 1.5, "clip": true}, "encoding": {"x": {"datum": 12.95, "type": "quantitative", "scale": {"domain": [-5.571, 17.35], "nice": false, "zero": false}, "axis": null}, "x2": {"datum": 13.48}, "y": {"field": "k", "type": "quantitative", "scale": {"domain": [-1.727, 14.9], "nice": false, "zero": false}, "axis": null}}},
        {"data": {"name": "hmonths"}, "mark": {"type": "rule", "color": "#333", "strokeWidth": 2, "clip": true}, "encoding": {"x": {"field": "m", "type": "quantitative", "scale": {"domain": [-5.571, 17.35], "nice": false, "zero": false}, "axis": null}, "y": {"datum": -0.1, "type": "quantitative", "scale": {"domain": [-1.727, 14.9], "nice": false, "zero": false}, "axis": null}, "y2": {"datum": -0.45}}},
        {"data": {"name": "hmonths"}, "mark": {"type": "text", "font": "DejaVu Sans Mono", "fontWeight": "bold", "fontSize": 12, "color": "#222", "clip": true}, "encoding": {"x": {"field": "m", "type": "quantitative", "scale": {"domain": [-5.571, 17.35], "nice": false, "zero": false}, "axis": null}, "y": {"datum": -1.14, "type": "quantitative", "scale": {"domain": [-1.727, 14.9], "nice": false, "zero": false}, "axis": null}, "text": {"field": "l"}}}
      ]}
    ]}
  ]}
]
}
